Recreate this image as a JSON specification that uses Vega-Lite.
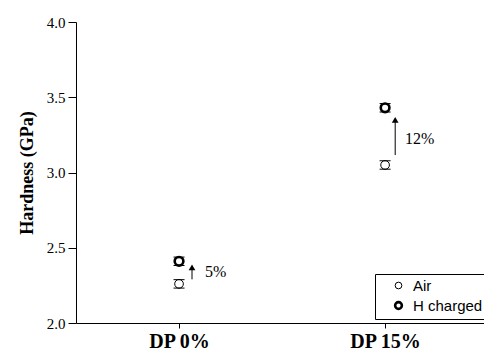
{
  "$schema": "https://vega.github.io/schema/vega-lite/v6.json",
  "autosize": "none",
  "width": 408,
  "height": 301,
  "padding": {"left": 76, "top": 22, "right": 0, "bottom": 31},
  "background": "white",
  "config": {"view": {"stroke": null}},
  "datasets": {
    "pts": [
      {"cat": "DP 0%", "xi": 0, "series": "Air", "h": 2.26, "lo": 2.232, "hi": 2.288},
      {"cat": "DP 0%", "xi": 0, "series": "H charged", "h": 2.41, "lo": 2.382, "hi": 2.438},
      {"cat": "DP 15%", "xi": 1, "series": "Air", "h": 3.05, "lo": 3.022, "hi": 3.078},
      {"cat": "DP 15%", "xi": 1, "series": "H charged", "h": 3.43, "lo": 3.402, "hi": 3.458}
    ],
    "arrows": [
      {"x": 0.063, "y1": 2.29, "y2": 2.36, "head": 2.37, "label": "5%", "tx": 0.126, "ty": 2.34},
      {"x": 1.049, "y1": 3.116, "y2": 3.34, "head": 3.35, "label": "12%", "tx": 1.097, "ty": 3.22}
    ]
  },
  "layer": [
    {
      "data": {"name": "pts"},
      "mark": {"type": "tick", "orient": "horizontal", "size": 11, "thickness": 1, "color": "black", "opacity": 1},
      "encoding": {
        "x": {"field": "xi", "type": "quantitative", "scale": {"domain": [-0.5, 1.48], "nice": false, "zero": false},
          "axis": {"values": [0, 1], "labelExpr": "datum.value === 0 ? 'DP 0%' : 'DP 15%'", "title": null, "grid": false,
            "domainColor": "black", "tickColor": "black", "tickSize": 5, "labelPadding": 3,
            "labelFont": "Times New Roman, Liberation Serif, serif", "labelFontWeight": "bold", "labelFontSize": 20, "labelColor": "black"}},
        "y": {"field": "lo", "type": "quantitative", "scale": {"domain": [2.0, 4.0], "nice": false, "zero": false},
          "axis": {"values": [2.0, 2.25, 2.5, 2.75, 3.0, 3.25, 3.5, 3.75, 4.0],
            "labelExpr": "round(datum.value*4) % 2 === 0 ? format(datum.value, '.1f') : ''",
            "tickSize": {"condition": {"test": "round(datum.value*4) % 2 === 0", "value": 8}, "value": 4},
            "title": "Hardness (GPa)", "grid": false, "domainColor": "black", "tickColor": "black",
            "labelFont": "Times New Roman, Liberation Serif, serif", "labelFontSize": 15, "labelColor": "black", "labelPadding": 3,
            "titleFont": "Times New Roman, Liberation Serif, serif", "titleFontWeight": "bold", "titleFontSize": 18, "titleColor": "black", "titlePadding": 10}}
      }
    },
    {
      "data": {"name": "pts"},
      "mark": {"type": "tick", "orient": "horizontal", "size": 11, "thickness": 1, "color": "black", "opacity": 1},
      "encoding": {
        "x": {"field": "xi", "type": "quantitative"},
        "y": {"field": "hi", "type": "quantitative"}
      }
    },
    {
      "data": {"name": "pts"},
      "mark": {"type": "point", "shape": "circle", "size": 75, "filled": false, "color": "black", "opacity": 1},
      "encoding": {
        "x": {"field": "xi", "type": "quantitative"},
        "y": {"field": "h", "type": "quantitative"},
        "strokeWidth": {"field": "series", "type": "nominal", "scale": {"domain": ["Air", "H charged"], "range": [1, 2.6]},
          "legend": {"title": null, "orient": "none", "legendX": 299, "legendY": 252, "strokeColor": "black", "padding": 4,
            "labelFont": "Liberation Sans, Arial, sans-serif", "labelFontSize": 15, "labelColor": "black",
            "symbolSize": 45, "symbolStrokeColor": "black", "symbolOpacity": 1,
            "symbolType": "circle", "rowPadding": 2, "labelOffset": 7, "symbolOffset": 12}}
      }
    },
    {
      "data": {"name": "arrows"},
      "mark": {"type": "rule", "color": "black", "strokeWidth": 1},
      "encoding": {
        "x": {"field": "x", "type": "quantitative"},
        "y": {"field": "y1", "type": "quantitative"},
        "y2": {"field": "y2"}
      }
    },
    {
      "data": {"name": "arrows"},
      "mark": {"type": "point", "shape": "triangle-up", "filled": true, "color": "black", "size": 45, "opacity": 1},
      "encoding": {
        "x": {"field": "x", "type": "quantitative"},
        "y": {"field": "head", "type": "quantitative"}
      }
    },
    {
      "data": {"name": "arrows"},
      "mark": {"type": "text", "align": "left", "baseline": "middle", "font": "Times New Roman, Liberation Serif, serif", "fontSize": 16, "color": "black"},
      "encoding": {
        "x": {"field": "tx", "type": "quantitative"},
        "y": {"field": "ty", "type": "quantitative"},
        "text": {"field": "label"}
      }
    }
  ]
}
